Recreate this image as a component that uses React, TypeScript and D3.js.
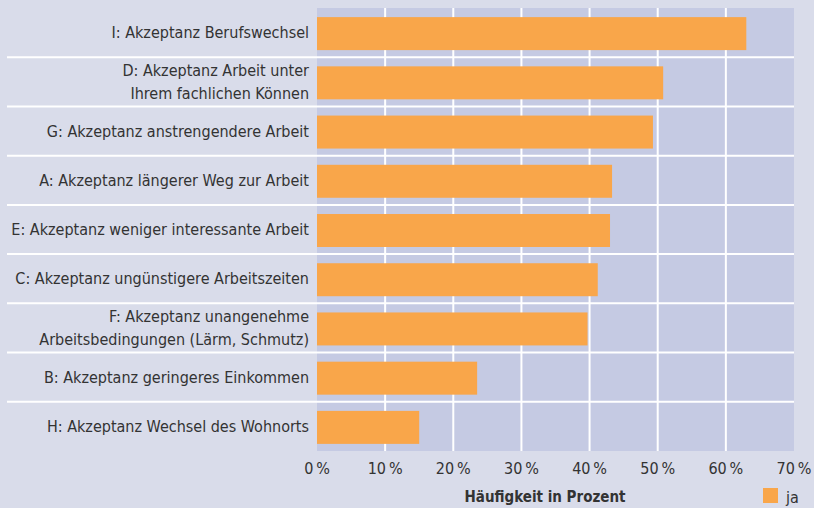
import React, { useEffect, useRef } from "react"
import * as d3 from "d3"

// categories, top to bottom (multi-line labels split with "|")
const categories = [
  "I: Akzeptanz Berufswechsel",
  "D: Akzeptanz Arbeit unter|Ihrem fachlichen Können",
  "G: Akzeptanz anstrengendere Arbeit",
  "A: Akzeptanz längerer Weg zur Arbeit",
  "E: Akzeptanz weniger interessante Arbeit",
  "C: Akzeptanz ungünstigere Arbeitszeiten",
  "F: Akzeptanz unangenehme|Arbeitsbedingungen (Lärm, Schmutz)",
  "B: Akzeptanz geringeres Einkommen",
  "H: Akzeptanz Wechsel des Wohnorts",
]
const jaValues = [63.0, 50.8, 49.3, 43.3, 43.0, 41.2, 39.7, 23.5, 15.0]
const xTicks = [0, 10, 20, 30, 40, 50, 60, 70]
const axisTitle = "Häufigkeit in Prozent"
const legendLabel = "ja"

const W = 814
const H = 508
const FONT = "'Liberation Sans Narrow', 'DejaVu Sans Condensed', 'Open Sans', sans-serif"

const App: React.FC = () => {
  const svgRef = useRef<SVGSVGElement | null>(null)

  useEffect(() => {
    const svg = d3.select(svgRef.current)
    svg.selectAll("*").remove()

    const margin = { top: 8, right: 20, bottom: 57, left: 317 }
    const innerW = W - margin.left - margin.right
    const innerH = H - margin.top - margin.bottom

    svg.append("rect").attr("width", W).attr("height", H).attr("fill", "#d9dcea")

    const g = svg.append("g").attr("transform", `translate(${margin.left},${margin.top})`)

    const x = d3.scaleLinear().domain([0, 70]).range([0, innerW])
    const y = d3.scaleBand<string>().domain(categories).range([0, innerH]).paddingInner(0.33).paddingOuter(0.165)
    const step = y.step()

    // plot background
    g.append("rect").attr("width", innerW).attr("height", innerH).attr("fill", "#c5cae3")

    // vertical gridlines
    g.selectAll(".grid")
      .data(xTicks.slice(1, -1))
      .enter()
      .append("line")
      .attr("x1", (d) => x(d))
      .attr("x2", (d) => x(d))
      .attr("y1", 0)
      .attr("y2", innerH)
      .attr("stroke", "#ffffff")
      .attr("stroke-width", 2)

    // bars
    g.selectAll(".bar")
      .data(jaValues)
      .enter()
      .append("rect")
      .attr("x", 0)
      .attr("y", (_d, i) => y(categories[i])! + 1)
      .attr("width", (d) => x(d))
      .attr("height", y.bandwidth())
      .attr("fill", "#f9a64a")

    // row separators
    g.selectAll(".sep")
      .data(categories.slice(1))
      .enter()
      .append("line")
      .attr("x1", 7 - margin.left)
      .attr("x2", innerW)
      .attr("y1", (_d, i) => step * (i + 1))
      .attr("y2", (_d, i) => step * (i + 1))
      .attr("stroke", "#ffffff")
      .attr("stroke-width", 2)

    // category labels
    categories.forEach((c, i) => {
      const lines = c.split("|")
      const cy = step * i + step / 2
      const t = g
        .append("text")
        .attr("text-anchor", "end")
        .attr("x", -8)
        .attr("font-family", FONT)
        .attr("font-size", 16)
        .attr("fill", "#333333")
      lines.forEach((l, k) => {
        t.append("tspan")
          .attr("x", -8)
          .attr("y", cy + (k - (lines.length - 1) / 2) * 22.6 + 5.5)
          .text(l)
      })
    })

    // x tick labels
    g.selectAll(".tick")
      .data(xTicks)
      .enter()
      .append("text")
      .attr("x", (d) => x(d))
      .attr("y", innerH + 23)
      .attr("text-anchor", "middle")
      .attr("font-family", FONT)
      .attr("font-size", 16)
      .attr("fill", "#333333")
      .text((d) => `${d}\u2009%`)

    // axis title
    svg
      .append("text")
      .attr("x", 545)
      .attr("y", 502)
      .attr("text-anchor", "middle")
      .attr("font-family", FONT)
      .attr("font-size", 15)
      .attr("font-weight", "bold")
      .attr("fill", "#333333")
      .text(axisTitle)

    // legend
    svg.append("rect").attr("x", 763).attr("y", 488).attr("width", 15).attr("height", 15).attr("fill", "#f9a64a")
    svg
      .append("text")
      .attr("x", 786)
      .attr("y", 503)
      .attr("font-family", FONT)
      .attr("font-size", 16)
      .attr("fill", "#333333")
      .text(legendLabel)
  }, [])

  return <svg ref={svgRef} width={W} height={H} style={{ position: "absolute", left: 0, top: 0 }}></svg>
}

export default App
